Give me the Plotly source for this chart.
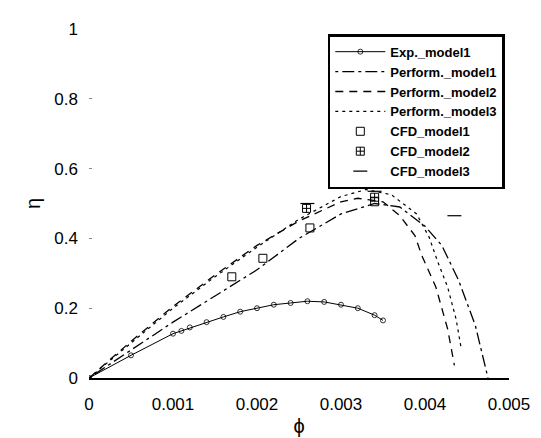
import plotly.graph_objects as go

# ---- data ----
exp_x = [0, 0.0005, 0.001, 0.0011, 0.0012, 0.0014, 0.0016, 0.0018, 0.002, 0.0022,
         0.0024, 0.0026, 0.0028, 0.003, 0.0032, 0.0034, 0.0035]
exp_y = [0, 0.065, 0.127, 0.135, 0.145, 0.16, 0.175, 0.19, 0.2, 0.21,
         0.215, 0.22, 0.218, 0.21, 0.2, 0.18, 0.165]

perf1_x = [0, 0.0005, 0.001, 0.0015, 0.002, 0.0025, 0.003, 0.0034, 0.0037, 0.004,
           0.0042, 0.0044, 0.0046, 0.00475]
perf1_y = [0, 0.08, 0.16, 0.235, 0.31, 0.40, 0.47, 0.50, 0.49, 0.435,
           0.38, 0.28, 0.15, 0]

perf2_x = [0, 0.0005, 0.001, 0.0015, 0.002, 0.0025, 0.003, 0.0032, 0.0035, 0.0037,
           0.00388, 0.00396, 0.00413, 0.00427, 0.00435]
perf2_y = [0, 0.105, 0.205, 0.295, 0.38, 0.45, 0.505, 0.515, 0.505, 0.465,
           0.408, 0.352, 0.26, 0.14, 0.036]

perf3_x = [0, 0.0005, 0.001, 0.0015, 0.002, 0.0025, 0.003, 0.0033, 0.0036, 0.0039,
           0.00405, 0.00415, 0.00427, 0.00437, 0.00443]
perf3_y = [0, 0.1, 0.2, 0.29, 0.375, 0.455, 0.52, 0.54, 0.525, 0.47,
           0.403, 0.334, 0.26, 0.169, 0.086]

cfd1_x = [0.0017, 0.00207, 0.00263, 0.0034]
cfd1_y = [0.29, 0.343, 0.43, 0.505]

cfd2_x = [0.00259, 0.0034]
cfd2_y = [0.486, 0.518]

cfd3_x = [0.0026, 0.0034, 0.00435]
cfd3_y = [0.50, 0.535, 0.465]

x_ticks = [0, 0.001, 0.002, 0.003, 0.004, 0.005]
x_tick_text = ["0", "0.001", "0.002", "0.003", "0.004", "0.005"]
y_ticks = [0, 0.2, 0.4, 0.6, 0.8, 1]
y_tick_text = ["0", "0.2", "0.4", "0.6", "0.8", "1"]

FONT = "Liberation Sans, Arial, sans-serif"

fig = go.Figure()
fig.add_trace(go.Scatter(x=exp_x, y=exp_y, mode="lines+markers", name="Exp._model1",
                         line=dict(color="black", width=1),
                         marker=dict(symbol="circle-open", size=5, color="black",
                                     line=dict(width=0.8))))
fig.add_trace(go.Scatter(x=perf1_x, y=perf1_y, mode="lines", name="Perform._model1",
                         line=dict(color="black", width=1.3, dash="3px,4px,12px,4px")))
fig.add_trace(go.Scatter(x=perf2_x, y=perf2_y, mode="lines", name="Perform._model2",
                         line=dict(color="black", width=1.3, dash="8px,6px")))
fig.add_trace(go.Scatter(x=perf3_x, y=perf3_y, mode="lines", name="Perform._model3",
                         line=dict(color="black", width=1.2, dash="3px,4px")))
fig.add_trace(go.Scatter(x=cfd1_x, y=cfd1_y, mode="markers", name="CFD_model1",
                         marker=dict(symbol="square-open", size=8, color="black",
                                     line=dict(width=1))))
fig.add_trace(go.Scatter(x=cfd2_x, y=cfd2_y, mode="markers", name="CFD_model2",
                         marker=dict(symbol="square-cross-open", size=8, color="black",
                                     line=dict(width=1))))
fig.add_trace(go.Scatter(x=cfd3_x, y=cfd3_y, mode="markers", name="CFD_model3",
                         marker=dict(symbol="line-ew-open", size=10, color="black",
                                     line=dict(width=1.2))))

fig.update_layout(
    width=541, height=438,
    margin=dict(l=81, r=40, t=15, b=60),
    paper_bgcolor="white", plot_bgcolor="white",
    font=dict(family=FONT, size=17, color="black"),
    showlegend=True,
    legend=dict(x=0.99, y=0.985, xanchor="right", yanchor="top",
                bgcolor="white", bordercolor="black", borderwidth=2.5,
                font=dict(family=FONT, size=13, color="black", weight="bold"),
                tracegroupgap=0, itemwidth=50),
    xaxis=dict(range=[0, 0.005], tickvals=x_ticks, ticktext=x_tick_text,
               showgrid=False, zeroline=False, showline=True, linecolor="black",
               linewidth=1.5, ticks="", ticklabelstandoff=10,
               title=dict(text="ϕ", font=dict(size=20), standoff=6)),
    yaxis=dict(range=[0, 1], tickvals=y_ticks, ticktext=y_tick_text,
               showgrid=False, zeroline=False, showline=False,
               ticks="inside", ticklen=3, tickcolor="#888", ticklabelstandoff=10,
               title=dict(text="η", font=dict(size=20), standoff=8)),
)

fig.write_html("out.html")
